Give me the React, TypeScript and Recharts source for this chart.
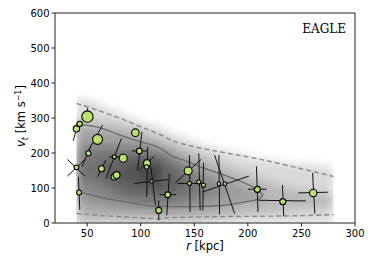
import { ComposedChart, XAxis, YAxis, Area, Line, Scatter, ReferenceLine } from "recharts"

// density shading: nested bands over r, [low, high] in km/s (null = band absent)
const densityR = [40, 60, 80, 100, 110, 120, 140, 160, 180, 200, 220, 240, 260, 280]
const band1Lo = [0, 0, 0, 0, 0, 0, 0, 0, 0, 0, 0, 0, 0, 0]
const band1Hi = [365, 340, 315, 290, 280, 268, 245, 222, 205, 190, 178, 170, 165, 160]
const band2Lo = [0, 0, 0, 0, 0, 0, 0, 5, 15, 25, 30, 38, 42, 45]
const band2Hi = [305, 290, 280, 262, 252, 240, 215, 190, 165, 140, 118, 100, 88, 78]
const band3Lo = [50, 35, 30, 25, 22, 22, 28, 35, 45, 60, 78, null, null, null]
const band3Hi = [270, 262, 255, 240, 232, 220, 192, 160, 130, 100, 78, null, null, null]
const band4Lo = [95, 70, 55, 45, 40, 40, 50, 65, 90, null, null, null, null, null]
const band4Hi = [215, 230, 225, 222, 215, 205, 172, 128, 90, null, null, null, null, null]
const band5Lo = [135, 110, 78, 62, 58, 60, 75, 100, null, null, null, null, null, null]
const band5Hi = [165, 200, 205, 208, 200, 190, 150, 100, null, null, null, null, null, null]
const band6Lo = [null, 150, 100, 85, 80, 80, 110, null, null, null, null, null, null, null]
const band6Hi = [null, 160, 180, 192, 188, 178, 110, null, null, null, null, null, null, null]
const band7Lo = [null, null, 140, 110, 100, 105, null, null, null, null, null, null, null, null]
const band7Hi = [null, null, 140, 178, 178, 165, null, null, null, null, null, null, null, null]
const band8Lo = [null, null, null, 140, 118, 135, null, null, null, null, null, null, null, null]
const band8Hi = [null, null, null, 140, 165, 135, null, null, null, null, null, null, null, null]

const bands = [
  [band1Lo, band1Hi],
  [band2Lo, band2Hi],
  [band3Lo, band3Hi],
  [band4Lo, band4Hi],
  [band5Lo, band5Hi],
  [band6Lo, band6Hi],
  [band7Lo, band7Hi],
  [band8Lo, band8Hi],
]

// dashed envelope
const upperDashR = [40, 60, 80, 100, 120, 130, 150, 175, 200, 225, 250, 280]
const upperDashV = [342, 322, 300, 275, 250, 235, 218, 203, 189, 173, 155, 133]
const lowerDashR = [40, 60, 80, 100, 117, 125, 150, 200, 250, 280]
const lowerDashV = [27, 22, 18, 15, 12, 15, 17, 19, 21, 24]

// solid contour (upper and lower halves, meeting at the tip)
const contourTopR = [40, 60, 80, 100, 115, 122, 128, 140, 150, 175, 200, 210, 214]
const contourTopV = [282, 274, 252, 232, 218, 207, 193, 180, 167, 140, 110, 93, 80]
const contourBotR = [40, 45, 60, 80, 100, 115, 130, 150, 175, 200, 210, 214]
const contourBotV = [90, 87, 75, 63, 53, 48, 47, 47, 50, 62, 68, 80]

// satellites
const satR = [40, 43, 50.3, 59.7, 51.2, 40, 42.5, 63.4, 75.3, 83.7, 75.3, 77.5, 95, 98.7, 105.9, 105.5, 110.2, 116.8, 125.2, 144.3, 145.5, 154.2, 158.6, 173, 178.6, 208.9, 232.6, 261]
const satV = [269, 283, 304, 239, 199, 159, 87, 155, 189, 185, 132, 137, 258, 206, 171, 160, 119, 36, 81, 149, 113, 117, 108, 112, 112, 96, 61, 86]
const satSize = [3.2, 2.7, 5.7, 5.0, 2.6, 2.4, 2.5, 3.0, 2.0, 4.0, 3.2, 3.4, 3.8, 2.8, 3.5, 2.2, 1.7, 3.0, 2.8, 4.0, 2.0, 2.0, 2.0, 1.8, 1.8, 3.0, 3.0, 3.7]
// error segments [r1, v1, r2, v2]
const errA = [
  [37, 235, 42, 290], null, [50.3, 288, 50.3, 328], [64.4, 280, 49.4, 197], [53.4, 218, 45, 160],
  [31.6, 181.5, 48.1, 134], [41.9, 132, 43.1, 38], [67.5, 180, 59.7, 132], [82.1, 242, 67.5, 127], null,
  null, null, null, [101.2, 261, 97.1, 151], [106.5, 218, 105.6, 74.5],
  null, [94, 113, 125.2, 124], [116.8, 65, 116.8, 8], [126.8, 141, 124.3, 22], [132.4, 115, 156.4, 182],
  [145.5, 194, 146.1, 31.5], [154.2, 199, 155.5, 36], [158.6, 172, 158, 36], [173, 194, 173.6, 25], [168.9, 194, 187.6, 27],
  [208, 162, 209.5, 31.5], [232.3, 108, 233.5, 19], [260.4, 143, 262.5, 27],
]
const errB = [
  null, null, null, null, null,
  [31.6, 134, 48.1, 181.5], null, null, [70.6, 189, 80, 189], null,
  null, null, null, [91.8, 206, 106.5, 206], [98.7, 151, 112.7, 191],
  null, [109.6, 160, 113.7, 51], null, [117.4, 81, 133, 81], null,
  [134.6, 113, 158.6, 113], null, null, [158, 89, 201, 134], null,
  [200, 96.5, 217.3, 96.5], [210.4, 65, 254, 63], [247, 86, 275, 88],
]

const xTicks = [50, 100, 150, 200, 250, 300]
const yTicks = [0, 100, 200, 300, 400, 500, 600]

const densityData = densityR.map((r, i) => {
  const row: any = { x: r }
  bands.forEach(([lo, hi], k) => {
    row["b" + k] = lo[i] == null ? null : [lo[i], hi[i]]
  })
  return row
})
const toLine = (rs: number[], vs: number[]) => rs.map((r, i) => ({ x: r, y: vs[i] }))
const satData = satR.map((r, i) => ({ x: r, y: satV[i], s: satSize[i] }))
const errData: any[] = []
;[...errA, ...errB].forEach((seg) => {
  if (!seg) return
  errData.push({ x: seg[0], y: seg[1] }, { x: seg[2], y: seg[3] }, { x: seg[2], y: null })
})

const font = "DejaVu Sans, sans-serif"

// soften the stacked bands into a smooth density, cut back to each band's own box
const densityCss = `
.dens .recharts-area-area { filter: url(#densBlur); clip-path: url(#densClip); }
`

const YLabel = () => {
  const cx = 21
  const cy = 116
  return (
    <text transform={`rotate(-90, ${cx}, ${cy})`} x={cx} y={cy + 4} textAnchor="middle" fontSize={11.5} fontFamily={font} fill="#000">
      <tspan fontStyle="italic">v</tspan>
      <tspan fontSize={8} dy={2.5} fontStyle="italic">t</tspan>
      <tspan dy={-2.5}> [km s</tspan>
      <tspan fontSize={8} dy={-4.5}>−1</tspan>
      <tspan dy={4.5}>]</tspan>
    </text>
  )
}

const XLabel = (props: any) => {
  const { x, y, width } = props.viewBox
  return (
    <text x={x + width / 2} y={y + 27} textAnchor="middle" fontSize={11.5} fontFamily={font} fill="#000">
      <tspan fontStyle="italic">r</tspan>
      <tspan> [kpc]</tspan>
    </text>
  )
}

const Dot = (props: any) => (
  <circle cx={props.cx} cy={props.cy} r={props.payload.s} fill="#b9e26f" stroke="#000" strokeWidth={1.1} />
)

export default function App() {
  return (
    <div style={{ position: "absolute", left: 0, top: 0, width: 374, height: 262, background: "#fff" }}>
      <style>{densityCss}</style>
      <svg width={0} height={0} style={{ position: "absolute" }}>
        <defs>
          <filter id="densBlur" x="-20%" y="-20%" width="140%" height="140%">
            <feGaussianBlur stdDeviation="5" />
          </filter>
          <clipPath id="densClip" clipPathUnits="objectBoundingBox">
            <rect x="0" y="0" width="1" height="1" />
          </clipPath>
        </defs>
      </svg>
      <ComposedChart width={374} height={262} data={densityData} margin={{ top: 13, right: 19, bottom: 0, left: 0 }}>
        <XAxis
          dataKey="x"
          type="number"
          domain={[20, 300]}
          ticks={xTicks}
          allowDataOverflow
          height={39}
          tickSize={3.5}
          tickMargin={3}
          stroke="#222"
          tick={{ fontSize: 10, fill: "#000", fontFamily: font }}
          label={<XLabel />}
        />
        <YAxis
          type="number"
          domain={[0, 600]}
          ticks={yTicks}
          allowDataOverflow
          width={55}
          tickSize={3.5}
          stroke="#222"
          tick={{ fontSize: 10, fill: "#000", fontFamily: font }}
          label={<YLabel />}
        />
        {bands.map((_, k) => (
          <Area
            key={k}
            className="dens"
            dataKey={"b" + k}
            type="monotone"
            stroke="none"
            fill="#000"
            fillOpacity={0.15}
            isAnimationActive={false}
          />
        ))}
        <Line data={toLine(contourTopR, contourTopV)} dataKey="y" type="monotone" stroke="#6a6a6a" strokeWidth={1.3} dot={false} isAnimationActive={false} />
        <Line data={toLine(contourBotR, contourBotV)} dataKey="y" type="monotone" stroke="#6a6a6a" strokeWidth={1.3} dot={false} isAnimationActive={false} />
        <Line data={toLine(upperDashR, upperDashV)} dataKey="y" type="monotone" stroke="#8a8a8a" strokeWidth={1.4} strokeDasharray="5 3" dot={false} isAnimationActive={false} />
        <Line data={toLine(lowerDashR, lowerDashV)} dataKey="y" type="monotone" stroke="#8a8a8a" strokeWidth={1.4} strokeDasharray="5 3" dot={false} isAnimationActive={false} />
        <Line data={errData} dataKey="y" type="linear" stroke="#111" strokeWidth={1} connectNulls={false} dot={false} isAnimationActive={false} />
        <Scatter data={satData} dataKey="y" shape={<Dot />} isAnimationActive={false} />
        <ReferenceLine x={300} stroke="#222" />
        <ReferenceLine y={600} stroke="#222" />
      </ComposedChart>
      <svg width={374} height={262} style={{ position: "absolute", left: 0, top: 0, pointerEvents: "none" }}>
        <text x={346} y={33} textAnchor="end" fontSize={12} fontFamily="DejaVu Serif, serif" fill="#000">EAGLE</text>
      </svg>
    </div>
  )
}
